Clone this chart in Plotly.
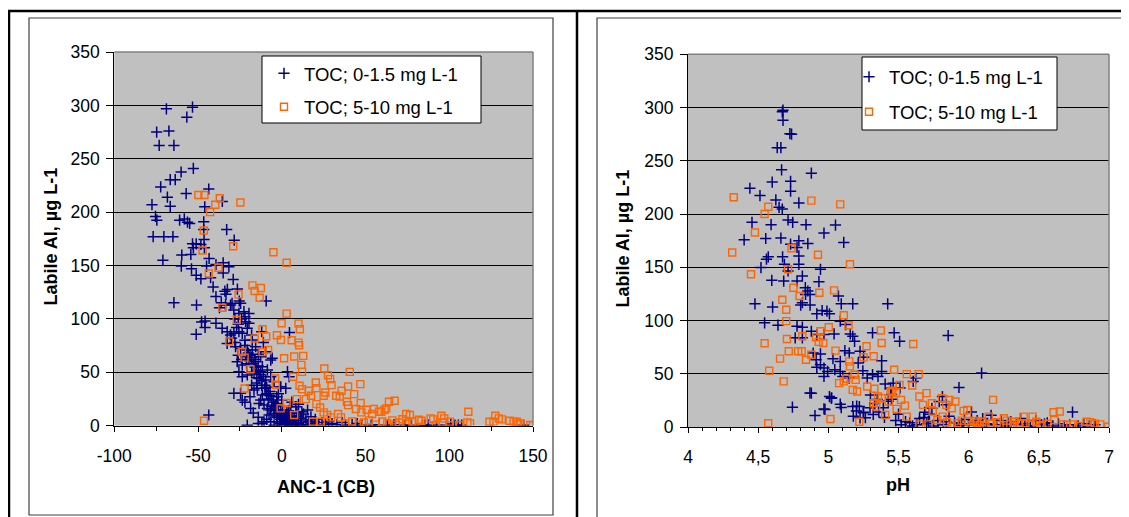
import plotly.graph_objects as go

W, H = 1129, 517
OFF = 8  # page body margin in the browser

# ---- ANC-1 (CB) vs labile Al ----
anc_low_x = [-68.9, -53.3, -56.7, -74.7, -67.4, -73.2, -64.4, -52.8, -60.1, -66.6, -63.6, -72.3, -43.6, -57.1,
             -68.3, -77.5, -66.6, -46, -35.5, -75.4, -74.6, -61, -58.2, -56.3, -55, -46.6, -46.6, -32.9, -76.8,
             -70.4, -65, -46.4, -28.4, -53.3, -51.1, -48.3, -52.8, -46.2, -59.7, -54.3, -43.4, -71, -60, -53.9,
             -44.9, -39.3, -35, -31.6, -51.1, -48.3, -42.5, -35, -29, -41, -34, -32.5, -26.5, -39.3, -33.3, -64.4,
             -50.9, -36.1, -29.7, -25.4, -37.2, -9.3, -47.9, -45.8, -39.3, -45.8, -51.1, 4.6,
             -33.6, -30.6, -28.6, -25.6, -22.6, -19.6, -24.6, -35.6, -32.6, -30.6, -28.6, -25.6, -23.6, -21.6,
             -19.6, -20.6, -17.6, -32.6, -27.6, -24.6, -20.6, -17.6, -15.6, -21.6, -26.6, -23.6, -19.6, -15.6,
             -12.6, -9.6, -6.6, -11.6, -8.6, -12.6, -25.6, -23.6, -20.6, -16.6, -13.6, -9.6, -6.6, -4.6, 3.4, 4.4,
             -0.6, 2.4, -24.6, -28.6, -23.6, -16.6, -14.6, -11.6, -12.6, -13.6, -10.6, -8.6, -6.6, -4.6, -2.6,
             -18.6, -43.6, -7.6, -4.6, -0.6, 1.4, 5.4, 7.4, 11.4, 14.4, 15.4, 8.4, 17.4, 19.4, 3.4, -2.6, -6.6,
             -10.6, 1.4, 7.4, 15.4, -20.6, -4.6, 11.4,
             -14, -11.9, 84, 100.9, -5.7, 53.4, 73.4, 77.4, 85.4, 87.4, 92.4, 98.4, 103.4, 105.4, 107.4, 144.4,
             -1, 0, 2, 4, 6, 8, 9, 10, 12, 13, 16, 18, 20, 22, 24, 26, 28, 30, 33, 36, 38, 42, 45, 48, 58, 63, 67,
             -3, -1, 0.5, 3, 5, 6, -8, -3, 0, 10, 12, -15, -18, -10, -7, -2, -22, -19, -17, -14, -9, -16, -14,
             -11, -18, -22, -27, -12,
             -22, -20, -19, -18, -17, -16, -15, -14, -13, -12, -11, -10, -9, -8, -7, -6, -5, -4, -3, -2, -1, 0,
             1, 2, 3, 4, 5, 6, 8, 10, -21, -18, -15, -12, -9, -6, -3, 0, 2, 4, 6, 9, -24, -26, -28, -30, -26,
             -24, -22, -28]
anc_low_y = [296.8, 298.3, 289, 275, 276, 262.5, 262.5, 241, 237.6, 230.4, 230.4, 223.6, 221.7, 217.4,
             214, 207, 205.5, 205, 210, 196, 192.5, 192.5, 193.7, 190.6, 189.4, 191, 183.7, 183.7, 177,
             177, 177, 174.4, 173.8, 170.3, 170.3, 169.7, 166.6, 166.6, 159.8, 160.4, 156.6, 155, 149.5, 147,
             149.5, 151, 152.6, 148.8, 140.8, 137.6, 138.6, 143, 137, 130, 126, 127.6, 128, 121, 123, 115.2,
             113, 115.2, 114.6, 116.8, 110.5, 116.8, 97.2, 98, 96, 92, 85.6, 87.2,
             113.0, 113.0, 108.4, 105.2, 106.8, 105.2, 114.6, 91.2, 88.1, 85.0, 86.5, 88.1, 86.5, 97.4,
             95.9, 91.2, 80.3, 77.1, 74.0, 72.4, 70.9, 70.9, 74.0, 64.6, 60.0, 56.8, 61.5, 60.0,
             64.6, 69.3, 61.5, 55.3, 52.2, 50.6, 50.6, 45.9, 47.5, 49.0, 44.3, 42.8, 45.9, 41.2, 50.6, 45.9,
             36.5, 35.0, 30.3, 30.3, 24.0, 33.4, 35.0, 28.7, 24.0, 20.9, 19.4, 16.2, 14.7, 17.8, 20.9,
             16.2, 10.0, 10.0, 11.5, 13.1, 10.0, 11.5, 8.4, 6.9, 5.3, 14.7, 17.8, 8.4, 3.7, 2.2, 3.7, 3.7,
             3.7, 1.0, 1.0, 1.0, 0.5, 0.5, 0.5,
             2, 2, 0.6, 1.5, 63.2, 0.5, 0.5, 0.5, 0.5, 0.5, 0.5, 0.5, 0.5, 0.5, 0.5, 0.5,
             6, 8, 5, 7, 3, 5, 2, 9, 3, 11, 4, 2, 6, 1, 3, 1, 4, 2, 1, 3, 0.5, 1, 2, 0.5, 1, 0.5, 1,
             8, 2, 15, 12, 18, 22, 25, 27, 24, 20, 13, 40, 38, 35, 32, 30, 22, 27, 12, 8, 6, 55, 67,
             78, 85, 80, 92, 88,
             75, 68, 66, 64, 58, 62, 52, 56, 48, 42, 46, 38, 36, 30, 28, 24, 22, 19, 15, 12, 10, 7,
             6, 4, 3, 2, 1, 5, 3, 2, 58, 50, 45, 38, 30, 18, 9, 4, 9, 14, 8, 12, 62, 66, 78, 82, 95,
             100, 102, 100]

anc_high_x = [-49.8, -46.2, -37, -39.7, -42.8, -24.7, -46.6, -47.3, -29, -5, 2.9, -37.8, -43.6, -17.5, -16.2,
              -12.5, -13.2, -25.8, -35.5, 2.9, -26.9, -0.1, 10, 10.8, -11.5, -16.2, -9.3, -2.9, -0.5, 5.9, 10,
              10.4, -31.4, -11.5, -8.2, -23.9, -22.2, 1.4, 7.4, 12.8, 11.7, 12.1, -18.7, 40.6, 25.4, 27.6, 28.9,
              6.8, -4, -3.6, 46.9, 20.3, 29.7, 20.7, 16, 12.1, 10.6, 39.6, 35.7, 34.6, 43.2, 25, 26, 32.5, -22.2,
              8.9, 14.3, 17.5, 38.9, 39.6, 47.1, 64, 67.4, 20.7, 2.9, -0.7, 22.9, 25, 27.1, 29.3, 33.6, 35.3,
              44.3, 47.5, 50.7, 53.9, 55, 58.2, 61.4, 74.3, 76.5, 81.8, 88.9, 95.3, 97, 111.4, 110.8, 124, 127.5,
              129.6, 136, 140.3, 141.2, 148.3, -46.4, 7.4, 18.6, 23.3,
              38, 42, 46, 49, 52, 56, 60, 63, 66, 68, 70, 72, 75, 78, 92, 100, 106, 96, 62.4, 59.4, 83.4, 90.4,
              100.4, 106.4, 112.4, 126.4, 131.4, 138.4, 142.4, 150]
anc_high_y = [216, 216, 213, 207, 200, 209, 182.8, 164.1, 168, 162.5, 152.6, 147.9, 142.6, 131.4, 126.1,
              128.9, 119.9, 123, 110.5, 105, 99, 96, 95.6, 90.3, 90.3, 81.6, 83.5, 84.7, 80.3, 80, 77.8,
              75.4, 78.8, 69, 71, 69, 63.8, 63.2, 64.8, 65.4, 57, 50.4, 52.9, 50.4, 53.6, 47.3, 43.6,
              45.8, 44.2, 38.3, 38.9, 40.5, 38, 35.2, 32.7, 34.3, 37.4, 36.7, 32.7, 27.4, 29.6, 28, 31.1, 28, 34.9,
              24.9, 24.9, 28, 22.4, 19.3, 21.2, 22.4, 23.4, 20.2, 21.2, 16.2, 17.1, 12.5, 10, 7.8, 10.9, 7.8,
              15.6, 12.5, 15, 10.9, 15.6, 13.1, 15, 10.9, 10, 5.6, 6.9, 9.3, 6.9, 13.1, 3.1, 3.7, 9.3,
              6.9, 4.7, 3.7, 1.6, 0.6, 4.7, 10, 3.7, 3.7,
              2, 4, 1, 3, 5, 1, 4, 2, 5, 1, 3, 6, 2, 4, 0.5, 0.5, 0.5, 3, 16.2, 13.1, 4.7, 5.9,
              3.8, 0.6, 2.2, 3.8, 5.9, 3.8, 2.2, 0.5]

# ---- pH vs labile Al ----
ph_low_x = [4.677, 4.672, 4.677, 4.726, 4.738, 4.636, 4.662, 4.667, 4.879, 4.441, 4.513, 4.6, 4.731, 4.731,
            4.626, 4.79, 4.649, 4.672, 4.456, 4.592, 4.713, 4.746, 4.841, 5.051, 4.969, 4.4, 4.554, 4.662,
            4.731, 4.79, 4.777, 5.11, 4.854, 4.572, 4.559, 4.674, 4.79, 4.79, 4.52, 4.687, 4.713, 4.944, 4.815,
            4.597, 4.682, 4.777, 4.933, 4.836, 4.854, 4.87, 4.838, 5.072, 4.477, 4.603, 4.803, 4.87, 4.815,
            5.092, 5.174, 5.423, 4.918, 4.99, 5.008, 4.956, 4.546, 4.641, 4.777, 4.815, 5.085, 5.123, 4.764,
            4.815, 4.879, 4.918, 4.969, 5.041, 5.156, 5.174, 5.187, 5.315, 5.469, 5.508, 5.854, 4.892, 4.944,
            4.913, 4.944, 4.918, 4.969, 4.995, 4.969, 5.033, 5.085, 5.118, 5.149, 5.046, 5.085, 5.103, 5.149,
            5.226, 5.251, 5.213, 5.246, 5.277, 5.315, 5.38, 5.38, 5.354, 5.405, 5.623, 5.605, 5.462, 5.444,
            4.879, 4.905, 4.744, 4.969, 5.021, 5.008, 5.085, 5.092, 5.174, 5.2, 5.221, 5.264, 5.251, 5.931,
            6.092, 5.813, 5.79, 5.841, 5.738, 5.687, 5.713,
            5.511, 5.451, 5.427, 5.392, 5.349, 5.297, 5.32, 5.249, 5.226, 5.178, 5.202, 5.024, 4.976, 4.869,
            5.30, 5.33, 5.36, 5.40, 5.45, 5.48, 5.50,
            5.52, 5.55, 5.6, 5.65, 5.7, 5.72, 5.75, 5.78, 5.82, 5.86, 5.9, 5.93, 5.97, 6.0, 6.02, 6.05, 6.08,
            6.1, 6.13, 6.16, 6.2, 6.23, 6.26, 6.3, 6.34, 6.37, 6.4, 6.44, 6.48, 6.52, 6.56, 6.6, 6.64, 6.68,
            6.72, 6.74, 6.78, 6.82, 6.86, 6.9, 5.58, 5.63, 5.68, 5.84, 5.95, 6.06, 6.18, 6.28, 6.42, 6.54]
ph_low_y = [297.5, 296, 288, 275.5, 275, 262.3, 262.3, 241.5, 238.4, 224.2, 217.3, 230, 230.8, 221.4,
            213.2, 210.4, 206.3, 204.7, 192.2, 190, 194.4, 192.2, 190, 189.6, 182.1, 175.8, 177, 177.4,
            171.7, 174.9, 168.6, 173.3, 172.3, 159.8, 157.6, 159.8, 160.7, 152.8, 149.7, 152.8, 146.6, 148.1, 141.8,
            137.7, 137, 137, 136.5, 130.8, 127.7, 124.5, 124.5, 123, 115.7, 112.6, 114.5, 114.5, 116.7,
            115.7, 115.7, 115.7, 106.3, 108.8, 106.3, 109.4, 97.8, 95.6, 94.7, 93.7, 99.4, 96.2, 83.7,
            83.7, 89.9, 86.8, 86.8, 87.4, 87.4, 85.2, 80.5, 88.4, 88.4, 80.5, 85.9, 69.5, 68.6,
            63.2, 58.5, 56, 55.4, 52.2, 47.5, 64.2, 61.6, 71.7, 69.5, 53.8, 52.2, 47.5, 45.9,
            71.1, 65.4, 60.1, 52.8, 45.9, 49.1, 62.3, 52.2, 47.5, 40.3, 45.9, 42.8, 41.2, 36.5,
            31.8, 10.7, 18.6, 17, 27, 28.6, 21.4, 18.2, 19.2, 15.1, 19.2, 8.8, 13.8, 37.1,
            50.6, 28.6, 23.9, 20.8, 17.6, 13.8, 5,
            36.7, 30.5, 24.2, 18, 25.8, 18, 11.8, 13.3, 8.6, 10.2, 19.6, 27.4, 16.5, 32,
            30, 22, 14, 9, 26, 6, 12,
            2, 5, 1, 8, 3, 12, 1, 6, 2, 10, 4, 1, 7, 2, 14, 4, 1,
            8, 3, 11, 2, 6, 1, 5, 2, 8, 3, 1, 6, 2, 4, 1, 3, 1,
            2, 14, 1, 3, 1, 2, 4, 2, 9, 5, 3, 6, 2, 4, 1, 3]

ph_high_x = [4.326, 4.315, 4.546, 4.572, 4.477, 4.449, 4.738, 4.879, 5.085, 4.926, 5.154, 4.713, 4.751, 4.795,
             4.672, 4.7, 4.936, 5.041, 5.11, 4.7, 5.144, 5.003, 4.944, 4.931, 4.964, 4.815, 4.913, 5.374, 5.38,
             5.605, 4.546, 4.705, 4.718, 4.785, 4.81, 5.051, 4.656, 4.841, 4.879, 5.272, 5.251, 5.323, 5.149,
             5.154, 4.579, 4.682, 5.077, 5.11, 5.128, 5.187, 5.195, 5.174, 5.205, 5.469, 5.559, 5.644, 5.508,
             5.456, 5.482, 5.598, 5.277, 5.328, 5.354, 5.341, 5.323, 5.405, 5.38, 5.431, 5.444, 5.487, 5.518,
             5.546, 5.559, 5.649, 5.7, 5.674, 5.649, 5.713, 5.738, 5.744, 5.81, 5.841, 5.861, 5.879, 5.905,
             5.777, 5.815, 5.846, 5.879, 5.918, 5.964, 5.99, 6.0, 6.041, 6.097, 6.143, 6.174, 6.2, 6.251, 6.297,
             6.328, 6.392, 6.405, 6.456, 6.482, 6.508, 6.605, 6.61, 6.649, 6.674, 6.743, 6.84, 6.867, 6.938,
             6.995, 4.572, 5.015, 5.221,
             6.02, 6.06, 6.12, 6.16, 6.22, 6.27, 6.32, 6.36, 6.44, 6.52, 6.56, 6.7, 6.78, 6.9, 5.95, 6.08]
ph_high_y = [215.7, 163.9, 200, 206.9, 182.7, 143.4, 167.9, 212.6, 209.1, 161.7, 152.8, 148.1, 130.8, 123,
             119.5, 110.1, 126.1, 128.3, 105, 99.4, 95.6, 93.7, 89.9, 79.9, 78.9, 85.2, 84.3, 90.6, 78.9,
             78, 78.6, 82.7, 71.1, 71.1, 71.1, 71.7, 64.2, 63.2, 67.9, 75.8, 65.4, 66.4, 61.6,
             56.9, 52.8, 42.8, 41.2, 42.8, 45.3, 49.1, 44.3, 34.9, 33.3, 53.8, 49.7, 49.7, 39.6,
             34, 31.8, 39, 38, 35.9, 28.6, 19.2, 22.3, 11.3, 27, 23.9, 32.7, 17, 25.5,
             20.1, 9.7, 28.6, 31.8, 20.8, 2.5, 2.5, 22.3, 14.5, 27, 20.8, 25.5, 17.6, 23.9,
             6.6, 9.7, 4.4, 1.3, 3.5, 15.1, 16, 5.7, 5.7, 5, 9.7, 25.5, 4.4, 8.2, 2.5,
             5, 9.7, 3.5, 9.7, 5, 1.9, 13.8, 6.6, 14.5, 2.5, 2.5, 5, 4.4, 2.5,
             0.3, 3.5, 7.5, 5,
             2, 4, 1, 3, 2, 6, 1, 3, 2, 1, 3, 2, 1, 3, 6, 2]

anc_ticks = [-100, -50, 0, 50, 100, 150]
anc_tick_text = ['-100', '-50', '0', '50', '100', '150']
ph_ticks = [4, 4.5, 5, 5.5, 6, 6.5, 7]
ph_tick_text = ['4', '4,5', '5', '5,5', '6', '6,5', '7']
al_ticks = [0, 50, 100, 150, 200, 250, 300, 350]

series_names = ['TOC; 0-1.5 mg L-1', 'TOC; 5-10 mg L-1']

FONT = 'Arial, Liberation Sans, sans-serif'
BLUE = '#000080'
ORANGE = '#FF6600'


# positions below are given in screen pixels; the page sits OFF px from the window edge
def px(x):
    return (x - OFF) / W


def py(y):
    return 1 - (y - OFF) / H


fig = go.Figure()

blue_marker = dict(symbol='cross-thin', size=8, line=dict(color=BLUE, width=1.5), color=BLUE)
orange_marker = dict(symbol='square-open', size=7, color=ORANGE, line=dict(width=1.4))

fig.add_trace(go.Scatter(x=anc_low_x, y=anc_low_y, mode='markers', name=series_names[0],
                         marker=blue_marker, xaxis='x', yaxis='y', legend='legend', legendgroup='a1'))
fig.add_trace(go.Scatter(x=anc_high_x, y=anc_high_y, mode='markers', name=series_names[1],
                         marker=orange_marker, xaxis='x', yaxis='y', legend='legend', legendgroup='a2'))
fig.add_trace(go.Scatter(x=ph_low_x, y=ph_low_y, mode='markers', name=series_names[0],
                         marker=blue_marker, xaxis='x2', yaxis='y2', legend='legend2', legendgroup='b1'))
fig.add_trace(go.Scatter(x=ph_high_x, y=ph_high_y, mode='markers', name=series_names[1],
                         marker=orange_marker, xaxis='x2', yaxis='y2', legend='legend2', legendgroup='b2'))

tickfont = dict(family=FONT, size=17.5, color='black')
common_x = dict(showgrid=False, zeroline=False, showline=True, linecolor='black', linewidth=1,
                ticks='outside', ticklen=5, tickcolor='black', tickfont=tickfont, tickmode='array',
                ticklabelstandoff=9)
common_y = dict(showgrid=True, gridcolor='black', gridwidth=1, zeroline=False, showline=True,
                linecolor='black', linewidth=1, ticks='outside', ticklen=7, tickcolor='black',
                tickfont=tickfont, tickvals=al_ticks, range=[0, 350], ticklabelstandoff=3)

legend_common = dict(xanchor='left', yanchor='top', bgcolor='rgba(0,0,0,0)', borderwidth=0,
                     font=dict(family=FONT, size=18.5))

fig.update_layout(
    width=W, height=H,
    margin=dict(l=0, r=0, t=0, b=0, autoexpand=False),
    paper_bgcolor='white',
    plot_bgcolor='#C0C0C0',
    font=dict(family=FONT, color='black'),
    xaxis=dict(common_x, domain=[px(114.3), px(533)], range=[-100, 150], anchor='y',
               tickvals=anc_ticks, ticktext=anc_tick_text,
               minor=dict(tick0=-100, dtick=25, ticks='outside', ticklen=4, tickcolor='black')),
    yaxis=dict(common_y, domain=[py(425.7), py(52)], anchor='x'),
    xaxis2=dict(common_x, domain=[px(688), px(1109)], range=[4, 7], anchor='y2',
                tickvals=ph_ticks, ticktext=ph_tick_text,
                minor=dict(tick0=4, dtick=0.1, ticks='outside', ticklen=3, tickcolor='black')),
    yaxis2=dict(common_y, domain=[py(427), py(54.3)], anchor='x2'),
    legend=dict(legend_common, x=px(304 - 40), y=py(73.3 - 18.5), tracegroupgap=6.4),
    legend2=dict(legend_common, x=px(889 - 40), y=py(76.7 - 18.5), tracegroupgap=8),
)

shapes = [
    # outer frame lines
    dict(type='line', xref='paper', yref='paper', x0=px(8), x1=1, y0=py(11), y1=py(11),
         line=dict(color='black', width=2.5)),
    dict(type='line', xref='paper', yref='paper', x0=px(9), x1=px(9), y0=py(11), y1=0,
         line=dict(color='black', width=2.5)),
    dict(type='line', xref='paper', yref='paper', x0=px(577), x1=px(577), y0=py(11), y1=0,
         line=dict(color='black', width=2.5)),
    # chart area boxes
    dict(type='rect', xref='paper', yref='paper', x0=px(29), x1=px(553), y0=py(515), y1=py(18),
         line=dict(color='#404040', width=1.2), layer='below'),
    dict(type='rect', xref='paper', yref='paper', x0=px(597), x1=px(1124), y0=py(530), y1=py(18),
         line=dict(color='#404040', width=1.2), layer='below'),
    # legend boxes
    dict(type='rect', xref='paper', yref='paper', x0=px(262), x1=px(481), y0=py(123), y1=py(56),
         fillcolor='white', line=dict(color='black', width=1), layer='above'),
    dict(type='rect', xref='paper', yref='paper', x0=px(862), x1=px(1057), y0=py(130), y1=py(57),
         fillcolor='white', line=dict(color='black', width=1), layer='above'),
]
# grey top / right border of each plot area
for xr, yr in (('x domain', 'y domain'), ('x2 domain', 'y2 domain')):
    shapes.append(dict(type='line', xref=xr, yref=yr, x0=0, x1=1, y0=1, y1=1,
                       line=dict(color='#808080', width=1.5), layer='above'))
    shapes.append(dict(type='line', xref=xr, yref=yr, x0=1, x1=1, y0=0, y1=1,
                       line=dict(color='#808080', width=1.5), layer='above'))
fig.update_layout(shapes=shapes)

title_font = dict(family=FONT, size=18, color='black')
annotations = [
    dict(text='<b>Labile Al, µg L-1</b>', x=px(50.5), y=py(237), textangle=-90),
    dict(text='<b>Labile Al, µg L-1</b>', x=px(622.5), y=py(239), textangle=-90),
    dict(text='<b>ANC-1 (CB)</b>', x=px(325.8), y=py(486.7)),
    dict(text='<b>pH</b>', x=px(898), y=py(485)),
]
for a in annotations:
    a.update(xref='paper', yref='paper', showarrow=False, xanchor='center', yanchor='middle',
             font=title_font)
fig.update_layout(annotations=annotations)

fig.write_html("out.html")
